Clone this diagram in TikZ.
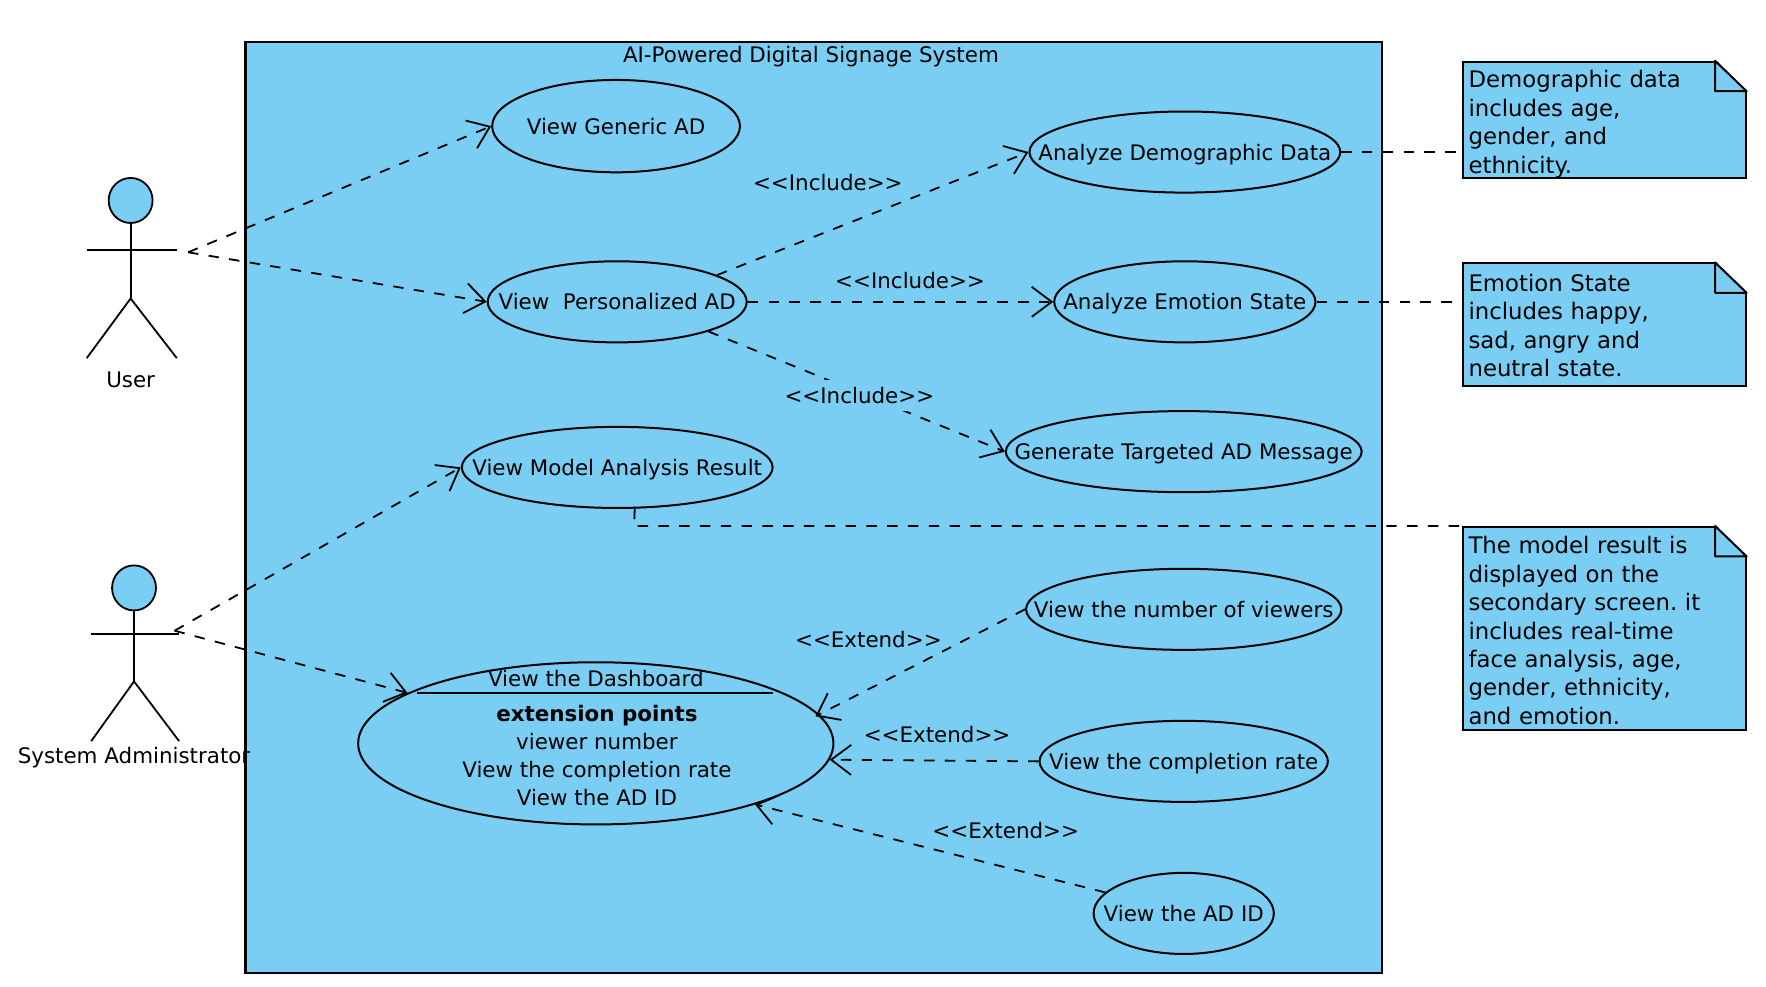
\documentclass[tikz,border=0pt]{standalone}
\usepackage{xcolor}
\usepackage{fontspec}
\setmainfont{DejaVu Sans}[Ligatures=NoCommon]
\usepackage{tikz}
\usetikzlibrary{shapes.geometric,arrows.meta,positioning,calc}
\definecolor{SkyFill}{HTML}{7ACEF4}
\newcommand{\ux}{0.5632pt}
\newcommand{\ucname}[1]{\makebox[0pt]{\rule[-2.2pt]{0pt}{12.4pt}\smash{#1}}}
\newcommand{\guil}[1]{<{}<#1>{}>}
\frenchspacing
\tikzset{
  % Base use case
  UC/.style 2 args={ellipse,draw,fill=SkyFill,line width=1pt,inner sep=0pt,
             minimum width=#1*\ux,minimum height=#2*\ux},
  % Note box
  NT/.style={rectangle,draw,fill=SkyFill,line width=1pt,anchor=north west,
             minimum width=251*\ux,minimum height=#1*\ux,
             text width=241*\ux,inner xsep=5*\ux,inner ysep=0pt,align=left,
             font=\fontsize{11.4}{14.2}\selectfont},
  % Connectors
  dep/.style={dash pattern=on 5.2pt off 5.2pt,line width=0.9pt,
             -{Straight Barb[length=10pt,width=15pt,line width=0.9pt]}},
  lnk/.style={dash pattern=on 5.2pt off 5.2pt,line width=0.9pt},
  fig/.style={line width=0.9pt},
  % Text styles
  LB/.style={inner sep=0pt,text height=10.2pt,text depth=2.2pt},
  LL/.style={LB,fill=SkyFill,inner ysep=1.6pt}
}
\begin{document}
\begin{tikzpicture}[x=0.5632pt,y=-0.5632pt,font=\fontsize{10.7}{14.08}\selectfont]
  \useasboundingbox (0,0) rectangle (1568,875.5);
  % System boundary
  \node[rectangle,draw,fill=SkyFill,line width=1.1pt,inner sep=0pt,anchor=north west,
        minimum width=1009*\ux,minimum height=827*\ux] (system) at (217,36) {};
  \node[LB] (systitle) at (720,48) {AI-Powered Digital Signage System};
  % Use cases, left column
  \node[UC={220}{82}] (generic) at (547,112) {\ucname{View Generic AD}};
  \node[UC={230}{72}] (personal) at (548,268) {\ucname{View\ \ Personalized AD}};
  \node[UC={276}{72}] (model) at (548,415) {\ucname{View Model Analysis Result}};
  \node[UC={422}{144}] (dashboard) at (529,660) {};
  \coordinate (dashL) at (370,615);
  \coordinate (dashR) at (686,615);
  \draw[fig] (dashL) -- (dashR);
  \node[LB] (dashtitle) at (529,602) {View the Dashboard};
  \node[inner sep=0pt,align=center] (dashpoints) at (530,671)
    {\textbf{extension points}\\viewer number\\View the completion rate\\View the AD ID};
  % Use cases, right column
  \node[UC={276}{72}] (demo) at (1052,135) {\ucname{Analyze Demographic Data}};
  \node[UC={232}{72}] (emotion) at (1052,268) {\ucname{Analyze Emotion State}};
  \node[UC={316}{72}] (targeted) at (1051,401) {\ucname{Generate Targeted AD Message}};
  \node[UC={280}{72}] (viewers) at (1051,541) {\ucname{View the number of viewers}};
  \node[UC={256}{72}] (rate) at (1051,676) {\ucname{View the completion rate}};
  \node[UC={160}{72}] (adid) at (1051,811) {\ucname{View the AD ID}};
  % Notes
  \node[NT=103] (noteDemo) at (1298,54)
    {\rule{0pt}{10.6pt}Demographic data\\includes age,\\gender, and\\\smash{ethnicity.}};
  \node[NT=109] (noteEmotion) at (1298,233)
    {\rule{0pt}{9.5pt}Emotion State\\includes happy,\\sad, angry and\\neutral state.};
  \node[NT=180] (noteModel) at (1298,467)
    {\rule{0pt}{11pt}The model result is\\displayed on the\\secondary screen. it\\includes real-time\\face analysis, age,\\gender, ethnicity,\\and emotion.};
  \foreach \n in {noteDemo,noteEmotion,noteModel}{
    \fill[white] ($(\n.north east)+(-27.5,-1)$) -- ($(\n.north east)+(1,-1)$) -- ($(\n.north east)+(1,27)$) -- cycle;
    \draw[line width=1pt,line join=round] ($(\n.north east)+(-28,0)$) -- ($(\n.north east)+(0,27)$) -- ($(\n.north east)+(-28,27)$) -- cycle;
  }
  % User
  \node[ellipse,draw,fill=SkyFill,fig,inner sep=0pt,minimum width=39*\ux,minimum height=40*\ux] (userhead) at (116,178) {};
  \coordinate (userhip) at (116,265);
  \coordinate (userport) at (167,224);
  \draw[fig] (userhead.south) -- (userhip);
  \draw[fig] (77,222) -- (157,222);
  \draw[fig] (77,318) -- (userhip) -- (157,318);
  \node[LB] (userlabel) at (116,337) {User};
  % System Administrator
  \node[ellipse,draw,fill=SkyFill,fig,inner sep=0pt,minimum width=39*\ux,minimum height=40*\ux] (adminhead) at (119,522) {};
  \coordinate (adminhip) at (119,605);
  \coordinate (adminport) at (155,560);
  \draw[fig] (adminhead.south) -- (adminhip);
  \draw[fig] (81,563) -- (159,563);
  \draw[fig] (81,658) -- (adminhip) -- (159,658);
  \node[LB] (adminlabel) at (119,671) {System Administrator};
  % Actor links
  \draw[dep] (userport) -- (generic.west);
  \draw[dep] (userport) -- (personal.west);
  \draw[dep] (adminport) -- (model.west);
  \draw[dep] (adminport) -- (dashboard.165.7);
  % Include links
  \draw[dep] (personal.15.6) -- (demo.west);
  \draw[dep] (personal.east) -- (emotion.west);
  \draw[dep] (personal.-18.7) -- (targeted.west);
  \node[LL] (incA) at (735,162) {\guil{Include}};
  \node[LL] (incB) at (808,249) {\guil{Include}};
  \node[LL] (incC) at (763,351) {\guil{Include}};
  % Extend links
  \coordinate (dashtip) at (724,636);
  \draw[dep] (viewers.west) -- (dashtip);
  \draw[dep] (rate.west) -- (dashboard.-4.4);
  \draw[dep] (adid.165.6) -- (dashboard.-21.6);
  \node[LL] (extA) at (771,568) {\guil{Extend}};
  \node[LL] (extB) at (832,652) {\guil{Extend}};
  \node[LL] (extC) at (893,737) {\guil{Extend}};
  % Note links
  \coordinate (emotionend) at (1292,268);
  \coordinate (modelbend) at (563,467);
  \draw[lnk] (demo.east) -- (noteDemo.west |- demo.east);
  \draw[lnk] (emotion.east) -- (emotionend);
  \draw[lnk] (model.-67.4) -- (modelbend) -- (noteModel.north west);
\end{tikzpicture}
\end{document}
